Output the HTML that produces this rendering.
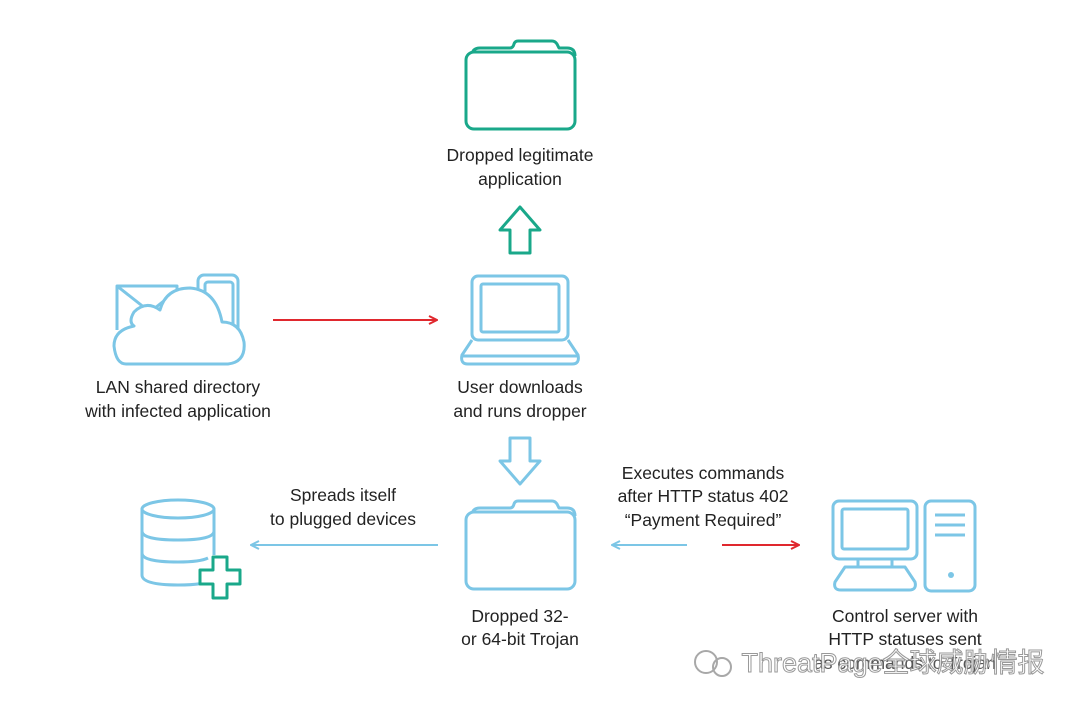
<!DOCTYPE html>
<html><head><meta charset="utf-8"><style>
html,body{margin:0;padding:0;background:#fff;}
svg{display:block}
text{font-family:"Liberation Sans","Noto Sans CJK SC",sans-serif;font-size:17.5px;fill:#222;text-anchor:middle}
</style></head><body>
<svg width="1080" height="712" viewBox="0 0 1080 712" xmlns="http://www.w3.org/2000/svg">
<defs>
<marker id="ar" markerWidth="10" markerHeight="10" refX="9" refY="5" orient="auto" markerUnits="userSpaceOnUse"><path d="M1,1 L9,5 L1,9" fill="none" stroke="#e0282e" stroke-width="2"/></marker>
<marker id="ab" markerWidth="10" markerHeight="10" refX="9" refY="5" orient="auto" markerUnits="userSpaceOnUse"><path d="M1,1 L9,5 L1,9" fill="none" stroke="#7cc6e6" stroke-width="2"/></marker>
</defs>
<g fill="none" stroke-width="3" stroke-linejoin="round">
<!-- top folder teal -->
<g stroke="#1aa88a">
<path d="M472,56 q0,-8 8,-8 h30 q3,0 4,-4 q1,-3 4,-3 h34 q3,0 5,3 l2,4 h8 q8,0 8,8"/>
<rect x="466" y="52" width="109" height="77" rx="8" fill="#fff"/>
</g>
<!-- up arrow -->
<path d="M520,207 L540,230 L530,230 L530,253 L510,253 L510,230 L500,230 Z" stroke="#1aa88a"/>
<g stroke="#7cc6e6">
<!-- laptop -->
<rect x="472" y="276" width="96" height="64" rx="6"/>
<rect x="481" y="284" width="78" height="48" rx="2"/>
<path d="M472,340 L462,355 Q460,364 468,364 H572 Q580,364 578,355 L568,340"/>
<line x1="462" y1="356" x2="578" y2="356"/>
<!-- down arrow -->
<path d="M520,484 L540,461 L530,461 L530,438 L510,438 L510,461 L500,461 Z"/>
<!-- bottom folder -->
<path d="M472,516 q0,-8 8,-8 h30 q3,0 4,-4 q1,-3 4,-3 h34 q3,0 5,3 l2,4 h8 q8,0 8,8"/>
<rect x="466" y="512" width="109" height="77" rx="8" fill="#fff"/>
<!-- cloud icon -->
<rect x="198" y="275" width="40" height="70" rx="6"/>
<rect x="205" y="282" width="28" height="60" rx="3"/>
<path d="M117,330 V286 H177 V300"/>
<path d="M117,286 L150,312 L170,296"/>
<path d="M126,364 H228 Q246,362 244,342 Q240,322 222,322 Q216,290 190,288 Q166,288 160,310 Q146,300 134,312 Q128,322 134,326 Q114,330 114,346 Q116,364 126,364 Z" fill="#fff"/>
<!-- database -->
<ellipse cx="178" cy="509" rx="36" ry="9"/>
<path d="M142,509 V575 Q142,585 178,585 Q205,585 212,580"/>
<path d="M214,509 V555"/>
<path d="M142,531 Q142,540 178,540 Q214,540 214,531"/>
<path d="M142,553 Q142,562 178,562 Q200,562 208,558"/>
<!-- computer -->
<rect x="833" y="501" width="84" height="58" rx="6"/>
<rect x="842" y="509" width="66" height="40" rx="2"/>
<rect x="858" y="559" width="34" height="8"/>
<path d="M845,567 H905 L915,582 Q917,590 909,590 H841 Q833,590 835,582 Z"/>
<rect x="925" y="501" width="50" height="90" rx="6"/>
<line x1="935" y1="515" x2="965" y2="515"/><line x1="935" y1="525" x2="965" y2="525"/><line x1="935" y1="535" x2="965" y2="535"/>
</g>
<circle cx="951" cy="575" r="3" fill="#7cc6e6"/>
<!-- plus -->
<path d="M213,557 h14 v13 h13 v14 h-13 v14 h-14 v-14 h-13 v-14 h13 Z" stroke="#1aa88a" fill="#fff"/>
</g>
<!-- connectors -->
<line x1="273" y1="320" x2="437" y2="320" stroke="#e0282e" stroke-width="2" marker-end="url(#ar)"/>
<line x1="438" y1="545" x2="251" y2="545" stroke="#7cc6e6" stroke-width="2" marker-end="url(#ab)"/>
<line x1="687" y1="545" x2="612" y2="545" stroke="#7cc6e6" stroke-width="2" marker-end="url(#ab)"/>
<line x1="722" y1="545" x2="799" y2="545" stroke="#e0282e" stroke-width="2" marker-end="url(#ar)"/>
<!-- labels -->
<text x="520" y="161">Dropped legitimate</text>
<text x="520" y="185">application</text>
<text x="178" y="393">LAN shared directory</text>
<text x="178" y="417">with infected application</text>
<text x="520" y="393">User downloads</text>
<text x="520" y="417">and runs dropper</text>
<text x="343" y="501">Spreads itself</text>
<text x="343" y="525">to plugged devices</text>
<text x="703" y="479">Executes commands</text>
<text x="703" y="502">after HTTP status 402</text>
<text x="703" y="526">“Payment Required”</text>
<text x="520" y="622">Dropped 32-</text>
<text x="520" y="645">or 64-bit Trojan</text>
<text x="905" y="622">Control server with</text>
<text x="905" y="645">HTTP statuses sent</text>
<text x="905" y="669" style="fill:#555">as commands to Trojan</text>
<!-- watermark -->
<g opacity="0.85">
<circle cx="706" cy="662" r="11" fill="none" stroke="#999" stroke-width="2"/>
<circle cx="722" cy="667" r="9" fill="none" stroke="#999" stroke-width="2"/>
<text x="893" y="672" style="font-size:27px;fill:#fff;stroke:#888;stroke-width:1">ThreatPage全球威胁情报</text>
</g>
</svg>
</body></html>
